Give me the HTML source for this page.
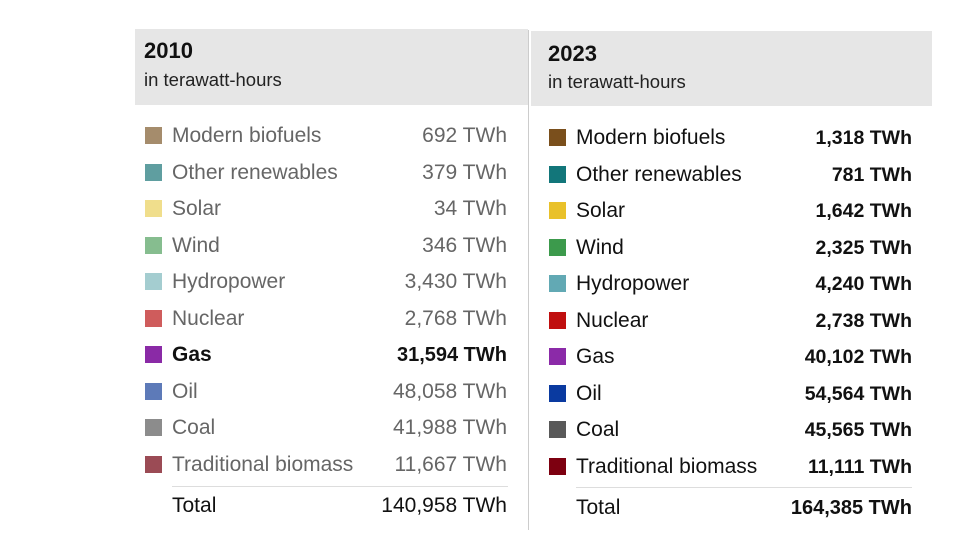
<!DOCTYPE html>
<html><head><style>
body{margin:0;width:980px;height:538px;background:#fff;font-family:"Liberation Sans",sans-serif;position:relative;overflow:hidden}
.hd{position:absolute;background:#e6e6e6}
.t{position:absolute;font-size:22px;font-weight:bold;color:#111}
.s{position:absolute;font-size:18.5px;color:#222}
.r{position:absolute;height:24px;line-height:24px;font-size:21px}
.sw{position:absolute;width:17px;height:17px;top:3px}
.l{position:absolute;white-space:nowrap}
.v{position:absolute;text-align:right;white-space:nowrap}
</style></head><body>
<div class="hd" style="left:135px;top:29px;width:393px;height:76px"></div>
<div class="hd" style="left:531px;top:31px;width:401px;height:75px"></div>
<div class="t" style="left:144px;top:38px">2010</div>
<div class="s" style="left:144px;top:69px">in terawatt-hours</div>
<div class="t" style="left:548px;top:41px">2023</div>
<div class="s" style="left:548px;top:71px">in terawatt-hours</div>
<div style="position:absolute;left:528px;top:30px;width:1px;height:500px;background:#ccc"></div>
<div style="position:absolute;left:172px;top:486px;width:336px;height:1px;background:#ddd"></div>
<div style="position:absolute;left:576px;top:487px;width:336px;height:1px;background:#ddd"></div>
<div id="L"></div>
<script>
var names=["Modern biofuels","Other renewables","Solar","Wind","Hydropower","Nuclear","Gas","Oil","Coal","Traditional biomass"];
var c1=["#a58c6c","#5f9ea0","#f0de8c","#86bd8f","#a4cdd0","#cf5c5c","#8a2aa6","#5d7ab8","#8c8c8c","#9b4b55"];
var v1=["692","379","34","346","3,430","2,768","31,594","48,058","41,988","11,667"];
var c2=["#7a4f1c","#12767a","#e9c12a","#3c9a4c","#62a9b4","#c00f0f","#8b2aa8","#0a3aa0","#595959","#7d0010"];
var v2=["1,318","781","1,642","2,325","4,240","2,738","40,102","54,564","45,565","11,111"];
var h="";
for(var i=0;i<10;i++){
 var y=124+i*36.5, b=i==6;
 h+='<div class="r" style="top:'+y+'px;left:0;width:980px;color:'+(b?'#111':'#666')+';font-weight:'+(b?'bold':'normal')+'"><div class="sw" style="left:145px;background:'+c1[i]+'"></div><div class="l" style="left:172px">'+names[i]+'</div><div class="v" style="right:473px;'+(b?'font-size:20px':'')+'">'+v1[i]+' TWh</div></div>';
 var y2=126+i*36.5;
 h+='<div class="r" style="top:'+y2+'px;left:0;width:980px;color:#111"><div class="sw" style="left:549px;background:'+c2[i]+'"></div><div class="l" style="left:576px">'+names[i]+'</div><div class="v" style="right:68px;font-weight:bold;font-size:19.5px">'+v2[i]+' TWh</div></div>';
}
h+='<div class="r" style="top:494px;left:0;width:980px;color:#111"><div class="l" style="left:172px">Total</div><div class="v" style="right:473px">140,958 TWh</div></div>';
h+='<div class="r" style="top:496px;left:0;width:980px;color:#111"><div class="l" style="left:576px">Total</div><div class="v" style="right:68px;font-weight:bold;font-size:20px">164,385 TWh</div></div>';
document.getElementById("L").innerHTML=h;
</script>
</body></html>
